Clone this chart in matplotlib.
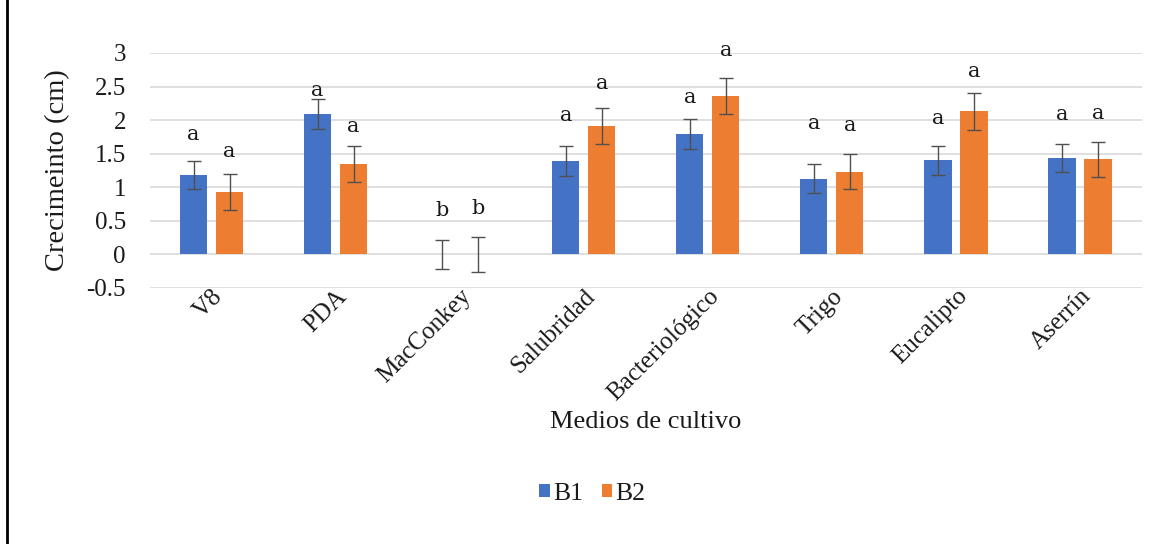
import matplotlib
matplotlib.use("Agg")
import matplotlib.pyplot as plt
import numpy as np
from matplotlib.lines import Line2D

categories = ["V8", "PDA", "MacConkey", "Salubridad", "Bacteriológico", "Trigo", "Eucalipto", "Aserrín"]
b1_values = [1.18, 2.09, 0.0, 1.39, 1.79, 1.13, 1.40, 1.44]
b2_values = [0.93, 1.35, 0.0, 1.91, 2.36, 1.23, 2.13, 1.42]
b1_err = [0.21, 0.22, 0.21, 0.22, 0.22, 0.21, 0.22, 0.21]
b2_err = [0.27, 0.27, 0.26, 0.27, 0.27, 0.26, 0.27, 0.26]
b1_letters = ["a", "a", "b", "a", "a", "a", "a", "a"]
b2_letters = ["a", "a", "b", "a", "a", "a", "a", "a"]
b1_letter_y = [1.79, 2.44, 0.66, 2.07, 2.34, 1.95, 2.03, 2.08]
b2_letter_y = [1.53, 1.90, 0.68, 2.54, 3.03, 1.92, 2.73, 2.10]
yticks = [-0.5, 0, 0.5, 1, 1.5, 2, 2.5, 3]
ytick_labels = ["-0.5", "0", "0.5", "1", "1.5", "2", "2.5", "3"]

plt.rcParams['font.family'] = ['Liberation Serif', 'DejaVu Serif']
text_color = "#1a1a1a"
blue = "#4472C4"
orange = "#ED7D31"

fig = plt.figure(figsize=(11.71, 5.44), dpi=100)
ax = fig.add_axes([0.1277, 0.4706, 0.8475, 0.432])

x = np.arange(len(categories))
w = 0.22
off = 0.145
ax.bar(x - off, b1_values, width=w, color=blue, label="B1", zorder=2)
ax.bar(x + off, b2_values, width=w, color=orange, label="B2", zorder=2)
ax.errorbar(x - off, b1_values, yerr=b1_err, fmt="none", ecolor="#505050",
            elinewidth=1, capsize=4.7, capthick=1, zorder=3)
ax.errorbar(x + off, b2_values, yerr=b2_err, fmt="none", ecolor="#505050",
            elinewidth=1, capsize=4.7, capthick=1, zorder=3)

for i in range(len(categories)):
    ax.text(x[i] - off, b1_letter_y[i], b1_letters[i], ha="center", va="center",
            fontsize=15, color=text_color, zorder=4, family="DejaVu Serif")
    ax.text(x[i] + off, b2_letter_y[i], b2_letters[i], ha="center", va="center",
            fontsize=15, color=text_color, zorder=4, family="DejaVu Serif")

ax.set_xlim(-0.5, len(categories) - 0.5)
ax.set_ylim(-0.5, 3)
ax.set_yticks(yticks)
ax.set_yticklabels(ytick_labels, fontsize=18, color=text_color)
ax.set_xticks(x + 0.0)
ax.set_xticklabels(categories, rotation=45, ha="right", va="top",
                   rotation_mode="anchor", fontsize=18, color=text_color)
ax.tick_params(axis="both", length=0)
ax.tick_params(axis="y", pad=17)
ax.tick_params(axis="x", pad=-2)
ax.yaxis.grid(True, color="#D9D9D9", linewidth=1.2, zorder=0)
ax.set_axisbelow(True)
for s in ax.spines.values():
    s.set_visible(False)

ax.set_ylabel("Crecimeinto (cm)", fontsize=20.5, color=text_color, labelpad=12)
fig.text(0.551, 1 - 422 / 544, "Medios de cultivo", ha="center", va="center",
         fontsize=19, color=text_color)

leg = ax.legend(loc="center", bbox_to_anchor=(0.506, 1 - 494 / 544),
                bbox_transform=fig.transFigure, ncol=2, frameon=False,
                fontsize=18.5, handlelength=0.4, handleheight=0.4,
                handletextpad=0.15, columnspacing=0.7)
for t in leg.get_texts():
    t.set_color(text_color)

fig.add_artist(Line2D([7 / 1171, 7 / 1171], [0, 1], transform=fig.transFigure,
                      color="black", linewidth=2))

fig.savefig("out.png", dpi=100, facecolor="white")
